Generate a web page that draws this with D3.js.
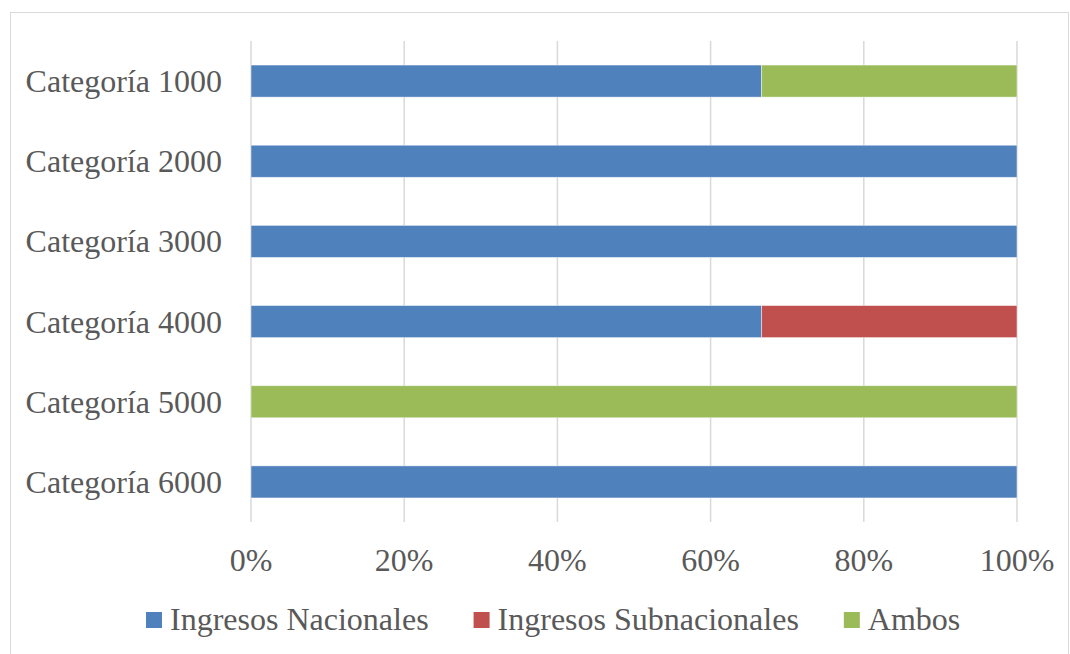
<!DOCTYPE html>
<html>
<head>
<meta charset="utf-8">
<script src="https://cdn.jsdelivr.net/npm/d3@7"></script>
<style>
  body { margin: 0; background: #fff; }
</style>
</head>
<body>
<svg id="chart" width="1070" height="654"></svg>
<script>
// 100% stacked bars: share of each category by funding source.
var categories = ["Categoría 1000", "Categoría 2000", "Categoría 3000", "Categoría 4000", "Categoría 5000", "Categoría 6000"];
var seriesNames = ["Ingresos Nacionales", "Ingresos Subnacionales", "Ambos"];
var nacionales    = [2, 1, 1, 2, 0, 1];
var subnacionales = [0, 0, 0, 1, 0, 0];
var ambos         = [1, 0, 0, 0, 1, 0];
var tickValues = [0, 0.2, 0.4, 0.6, 0.8, 1];
var colors = ["#4F81BD", "#C0504D", "#9BBB59"];

(function () {
  var FONT = "'Liberation Serif', 'Times New Roman', Times, serif";
  var SIZE = 32;
  var svg = d3.select("#chart");

  // outer chart frame
  svg.append("rect")
    .attr("x", 10.5).attr("y", 12.5).attr("width", 1058).attr("height", 700)
    .attr("fill", "none").attr("stroke", "#d9d9d9").attr("stroke-width", 1);

  var plotL = 251, plotR = 1017, plotT = 41, plotB = 522;

  var x = d3.scaleLinear().domain([0, 1]).range([plotL, plotR]);
  var y = d3.scaleBand().domain(categories).range([plotT, plotB]).paddingInner(0.6).paddingOuter(0.3);

  // normalise rows to shares
  var rows = categories.map(function (c, i) {
    var tot = nacionales[i] + subnacionales[i] + ambos[i];
    return { cat: c, n: nacionales[i] / tot, s: subnacionales[i] / tot, a: ambos[i] / tot };
  });
  var stack = d3.stack().keys(["n", "s", "a"])(rows);

  // gridlines
  svg.append("g").selectAll("line")
    .data(tickValues).join("line")
    .attr("x1", function (d) { return x(d); }).attr("x2", function (d) { return x(d); })
    .attr("y1", plotT).attr("y2", plotB)
    .attr("stroke", "#d9d9d9").attr("stroke-width", 1.5);

  // bars
  svg.append("g").selectAll("g")
    .data(stack).join("g")
    .attr("fill", function (d, i) { return colors[i]; })
    .selectAll("rect")
    .data(function (d) { return d.filter(function (p) { return p[1] > p[0]; }); }).join("rect")
    .attr("x", function (d) { return x(d[0]); })
    .attr("y", function (d) { return y(d.data.cat); })
    .attr("width", function (d) { return x(d[1]) - x(d[0]); })
    .attr("height", y.bandwidth())
    .attr("stroke", "#fff").attr("stroke-width", 0.75).attr("stroke-opacity", 0.6);

  // category labels
  svg.append("g").selectAll("text")
    .data(categories).join("text")
    .attr("x", plotL - 29)
    .attr("y", function (d) { return y(d) + y.bandwidth() / 2 + 11; })
    .attr("text-anchor", "end")
    .attr("font-family", FONT).attr("font-size", SIZE).attr("fill", "#595959")
    .text(function (d) { return d; });

  // x tick labels
  svg.append("g").selectAll("text")
    .data(tickValues).join("text")
    .attr("x", function (d) { return x(d); })
    .attr("y", 571)
    .attr("text-anchor", "middle")
    .attr("font-family", FONT).attr("font-size", SIZE).attr("fill", "#595959")
    .text(d3.format(".0%"));

  // legend
  var lg = svg.append("g").attr("transform", "translate(146,0)");
  var items = lg.selectAll("g").data(seriesNames).join("g");
  items.append("rect").attr("width", 16).attr("height", 16).attr("y", 612)
    .attr("fill", function (d, i) { return colors[i]; });
  items.append("text").attr("x", 24).attr("y", 630)
    .attr("font-family", FONT).attr("font-size", SIZE).attr("fill", "#595959")
    .text(function (d) { return d; });
  var pos = 0, gap = 45;
  items.each(function () {
    var w = 24 + this.querySelector("text").getComputedTextLength();
    d3.select(this).attr("transform", "translate(" + pos + ",0)");
    pos += w + gap;
  });
})();
</script>
</body>
</html>
